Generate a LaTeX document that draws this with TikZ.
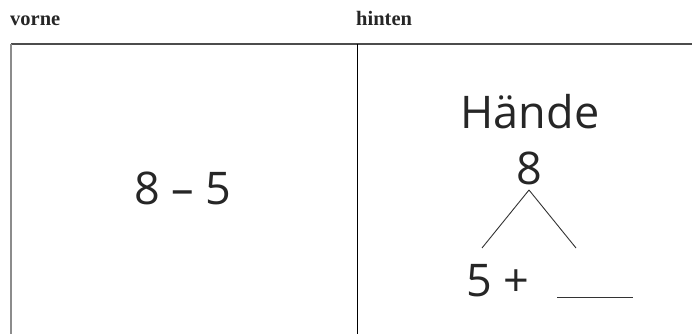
\documentclass[tikz,border=0pt]{standalone}
\usepackage{fontspec}
\newfontfamily\labelfont{Liberation Serif}
\newfontfamily\cardfont{Open Sans}
\tikzset{
  hdr/.style={inner sep=0pt, anchor=base west, font=\labelfont\bfseries\fontsize{20.5}{20.5}\selectfont, text=black!85},
  card/.style={inner sep=0pt, anchor=base, font=\cardfont\fontsize{45}{45}\selectfont, text=black!85},
  frame/.style={line width=1.6pt, draw=black!70},
  sideline/.style={line width=1.2pt, draw=black!45},
  midline/.style={line width=0.9pt, draw=black},
  branch/.style={line width=0.9pt, draw=black!80},
}
\begin{document}
\begin{tikzpicture}[x=1pt,y=-1pt]
\useasboundingbox (0,0) rectangle (692,334);
% headers
\node[hdr] (vorne) at (10,26) {vorne};
\node[hdr] (hinten) at (356,26) {hinten};
% frame
\coordinate (tl) at (11,44);
\coordinate (tr) at (692,44);
\coordinate (bl) at (11,334);
\coordinate (tm) at (357,44);
\coordinate (bm) at (357,334);
\draw[frame] (tl) -- (tr);
\draw[sideline] (tl) -- (bl);
\draw[midline] (tm) -- (bm);
% front
\node[card] (front) at (183,204) {8 – 5};
% back
\node[card] (word) at (530,128) {Hände};
\node[card] (total) at (529,184) {8};
\coordinate (apex) at (529,190);
\coordinate (leftend) at (482,248);
\coordinate (rightend) at (576,248);
\draw[branch] (apex) -- (leftend);
\draw[branch] (apex) -- (rightend);
\node[card, anchor=base west] (part) at (466,296) {5 +};
\coordinate (blankL) at (557,297);
\coordinate (blankR) at (633,297);
\draw[branch] (blankL) -- (blankR);
\end{tikzpicture}
\end{document}
